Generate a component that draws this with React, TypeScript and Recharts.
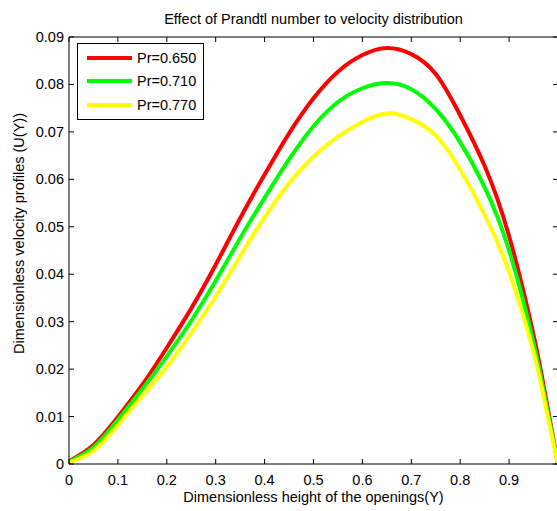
import React from 'react';
import { LineChart, Line, XAxis, YAxis } from 'recharts';

const heightY = [0, 0.05, 0.1, 0.15, 0.2, 0.25, 0.3, 0.35, 0.4, 0.45, 0.5, 0.55, 0.6, 0.65, 0.7, 0.75, 0.8, 0.85, 0.9, 0.95, 0.975, 1.0];
const pr650 = [0.0006, 0.0040, 0.0099, 0.0167, 0.0245, 0.0328, 0.0420, 0.0518, 0.0610, 0.0697, 0.0771, 0.0827, 0.0862, 0.0877, 0.0864, 0.0822, 0.0735, 0.0628, 0.0480, 0.0272, 0.0140, 0.0];
const pr710 = [0.0005, 0.0035, 0.0093, 0.0158, 0.0227, 0.0302, 0.0386, 0.0476, 0.0561, 0.0642, 0.0712, 0.0763, 0.0792, 0.0803, 0.0790, 0.0748, 0.0678, 0.0583, 0.0450, 0.0255, 0.0130, 0.0];
const pr770 = [0.0003, 0.0028, 0.0082, 0.0144, 0.0205, 0.0276, 0.0353, 0.0438, 0.0520, 0.0592, 0.0648, 0.0690, 0.0721, 0.0739, 0.0727, 0.0692, 0.0620, 0.0525, 0.0405, 0.0236, 0.0120, 0.0];

const seriesNames = ['Pr=0.650', 'Pr=0.710', 'Pr=0.770'];
const seriesKeys = ['pr650', 'pr710', 'pr770'];
const seriesColors = ['#ff0000', '#00ff00', '#ffff00'];

const xTicks = [0, 0.1, 0.2, 0.3, 0.4, 0.5, 0.6, 0.7, 0.8, 0.9];
const yTicks = [0, 0.01, 0.02, 0.03, 0.04, 0.05, 0.06, 0.07, 0.08, 0.09];

const titleText = 'Effect of Prandtl number to velocity distribution';
const xLabelText = 'Dimensionless height of the openings(Y)';
const yLabelText = 'Dimensionless velocity profiles (U(Y))';

const data = heightY.map((y, i) => ({
  Y: y,
  pr650: pr650[i],
  pr710: pr710[i],
  pr770: pr770[i],
}));

const FONT = '"Liberation Sans", Arial, Helvetica, sans-serif';
const FS = 14.5;
const TICK_LEN = 5;

// layout of the plotting box inside the 557x511 picture
const PLOT_LEFT = 69;
const PLOT_TOP = 37;
const PLOT_RIGHT = 558;
const PLOT_BOTTOM = 464;
const CHART_W = 570;
const CHART_H = 511;

const fmt = (v: number) => (v === 0 ? '0' : String(Number(v.toFixed(2))));

const BottomTick = (props: any) => {
  const { x, y, payload } = props;
  return (
    <g>
      <line x1={x} x2={x} y1={y} y2={y - TICK_LEN} stroke="#000" strokeWidth={1} />
      <text x={x} y={y + 21} textAnchor="middle" fontSize={FS} fontFamily={FONT} fill="#000">
        {fmt(payload.value)}
      </text>
    </g>
  );
};

const TopTick = (props: any) => {
  const { x, y } = props;
  return <line x1={x} x2={x} y1={y} y2={y + TICK_LEN} stroke="#000" strokeWidth={1} />;
};

const LeftTick = (props: any) => {
  const { x, y, payload } = props;
  return (
    <g>
      <line x1={x} x2={x + TICK_LEN} y1={y} y2={y} stroke="#000" strokeWidth={1} />
      <text x={x - 5} y={y + 5} textAnchor="end" fontSize={FS} fontFamily={FONT} fill="#000">
        {fmt(payload.value)}
      </text>
    </g>
  );
};

const RightTick = (props: any) => {
  const { x, y } = props;
  return <line x1={x} x2={x - TICK_LEN} y1={y} y2={y} stroke="#000" strokeWidth={1} />;
};

const LegendBox = () => (
  <div
    style={{
      position: 'absolute',
      left: 77,
      top: 43,
      width: 125,
      height: 73,
      border: '1px solid #000',
      background: '#fff',
      fontFamily: FONT,
      fontSize: FS,
      color: '#000',
      paddingTop: 2,
    }}
  >
    {seriesNames.map((n, i) => (
      <div key={n} style={{ display: 'flex', alignItems: 'center', height: 23.5 }}>
        <div style={{ marginLeft: 9, width: 45, height: 4, background: seriesColors[i] }} />
        <span style={{ marginLeft: 5, lineHeight: '16px' }}>{n}</span>
      </div>
    ))}
  </div>
);

const TextOverlay = () => {
  const cx = (PLOT_LEFT + PLOT_RIGHT) / 2;
  const ylx = 24;
  const yly = (PLOT_TOP + PLOT_BOTTOM) / 2 - 17;
  return (
    <svg
      width={557}
      height={511}
      style={{ position: 'absolute', left: 0, top: 0, pointerEvents: 'none' }}
    >
      <text x={cx} y={24} textAnchor="middle" fontSize={FS} fontFamily={FONT} fill="#000">
        {titleText}
      </text>
      <text x={cx} y={502} textAnchor="middle" fontSize={FS} fontFamily={FONT} fill="#000">
        {xLabelText}
      </text>
      <text
        x={ylx}
        y={yly}
        transform={`rotate(-90 ${ylx} ${yly})`}
        textAnchor="middle"
        fontSize={FS}
        fontFamily={FONT}
        fill="#000"
      >
        {yLabelText}
      </text>
    </svg>
  );
};

export default function App() {
  return (
    <div
      style={{
        position: 'fixed',
        left: 0,
        top: 0,
        width: 557,
        height: 511,
        overflow: 'hidden',
        background: '#fff',
      }}
    >
      <div style={{ position: 'absolute', left: 0, top: 0 }}>
        <LineChart
          width={CHART_W}
          height={CHART_H}
          data={data}
          margin={{ top: PLOT_TOP - 1, right: CHART_W - PLOT_RIGHT - 1, bottom: 0, left: 0 }}
        >
          <XAxis
            xAxisId="bottom"
            dataKey="Y"
            type="number"
            domain={[0, 1]}
            ticks={xTicks}
            interval={0}
            orientation="bottom"
            height={CHART_H - PLOT_BOTTOM}
            tickSize={0}
            tickMargin={0}
            tickLine={false}
            tick={BottomTick}
            axisLine={{ stroke: '#000', strokeWidth: 1 }}
            allowDataOverflow
          />
          <XAxis
            xAxisId="top"
            dataKey="Y"
            type="number"
            domain={[0, 1]}
            ticks={xTicks}
            interval={0}
            orientation="top"
            height={1}
            tickSize={0}
            tickMargin={0}
            tickLine={false}
            tick={TopTick}
            axisLine={{ stroke: '#000', strokeWidth: 1 }}
            allowDataOverflow
          />
          <YAxis
            yAxisId="left"
            type="number"
            domain={[0, 0.09]}
            ticks={yTicks}
            interval={0}
            orientation="left"
            width={PLOT_LEFT}
            tickSize={0}
            tickMargin={0}
            tickLine={false}
            tick={LeftTick}
            axisLine={{ stroke: '#000', strokeWidth: 1 }}
            allowDataOverflow
          />
          <YAxis
            yAxisId="right"
            type="number"
            domain={[0, 0.09]}
            ticks={yTicks}
            interval={0}
            orientation="right"
            width={1}
            tickSize={0}
            tickMargin={0}
            tickLine={false}
            tick={RightTick}
            axisLine={{ stroke: '#000', strokeWidth: 1 }}
            allowDataOverflow
          />
          {seriesKeys.map((k, i) => (
            <Line
              key={k}
              xAxisId="bottom"
              yAxisId="left"
              dataKey={k}
              name={seriesNames[i]}
              type="natural"
              stroke={seriesColors[i]}
              strokeWidth={4}
              dot={false}
              activeDot={false}
              isAnimationActive={false}
            />
          ))}
        </LineChart>
      </div>
      <TextOverlay />
      <LegendBox />
    </div>
  );
}
